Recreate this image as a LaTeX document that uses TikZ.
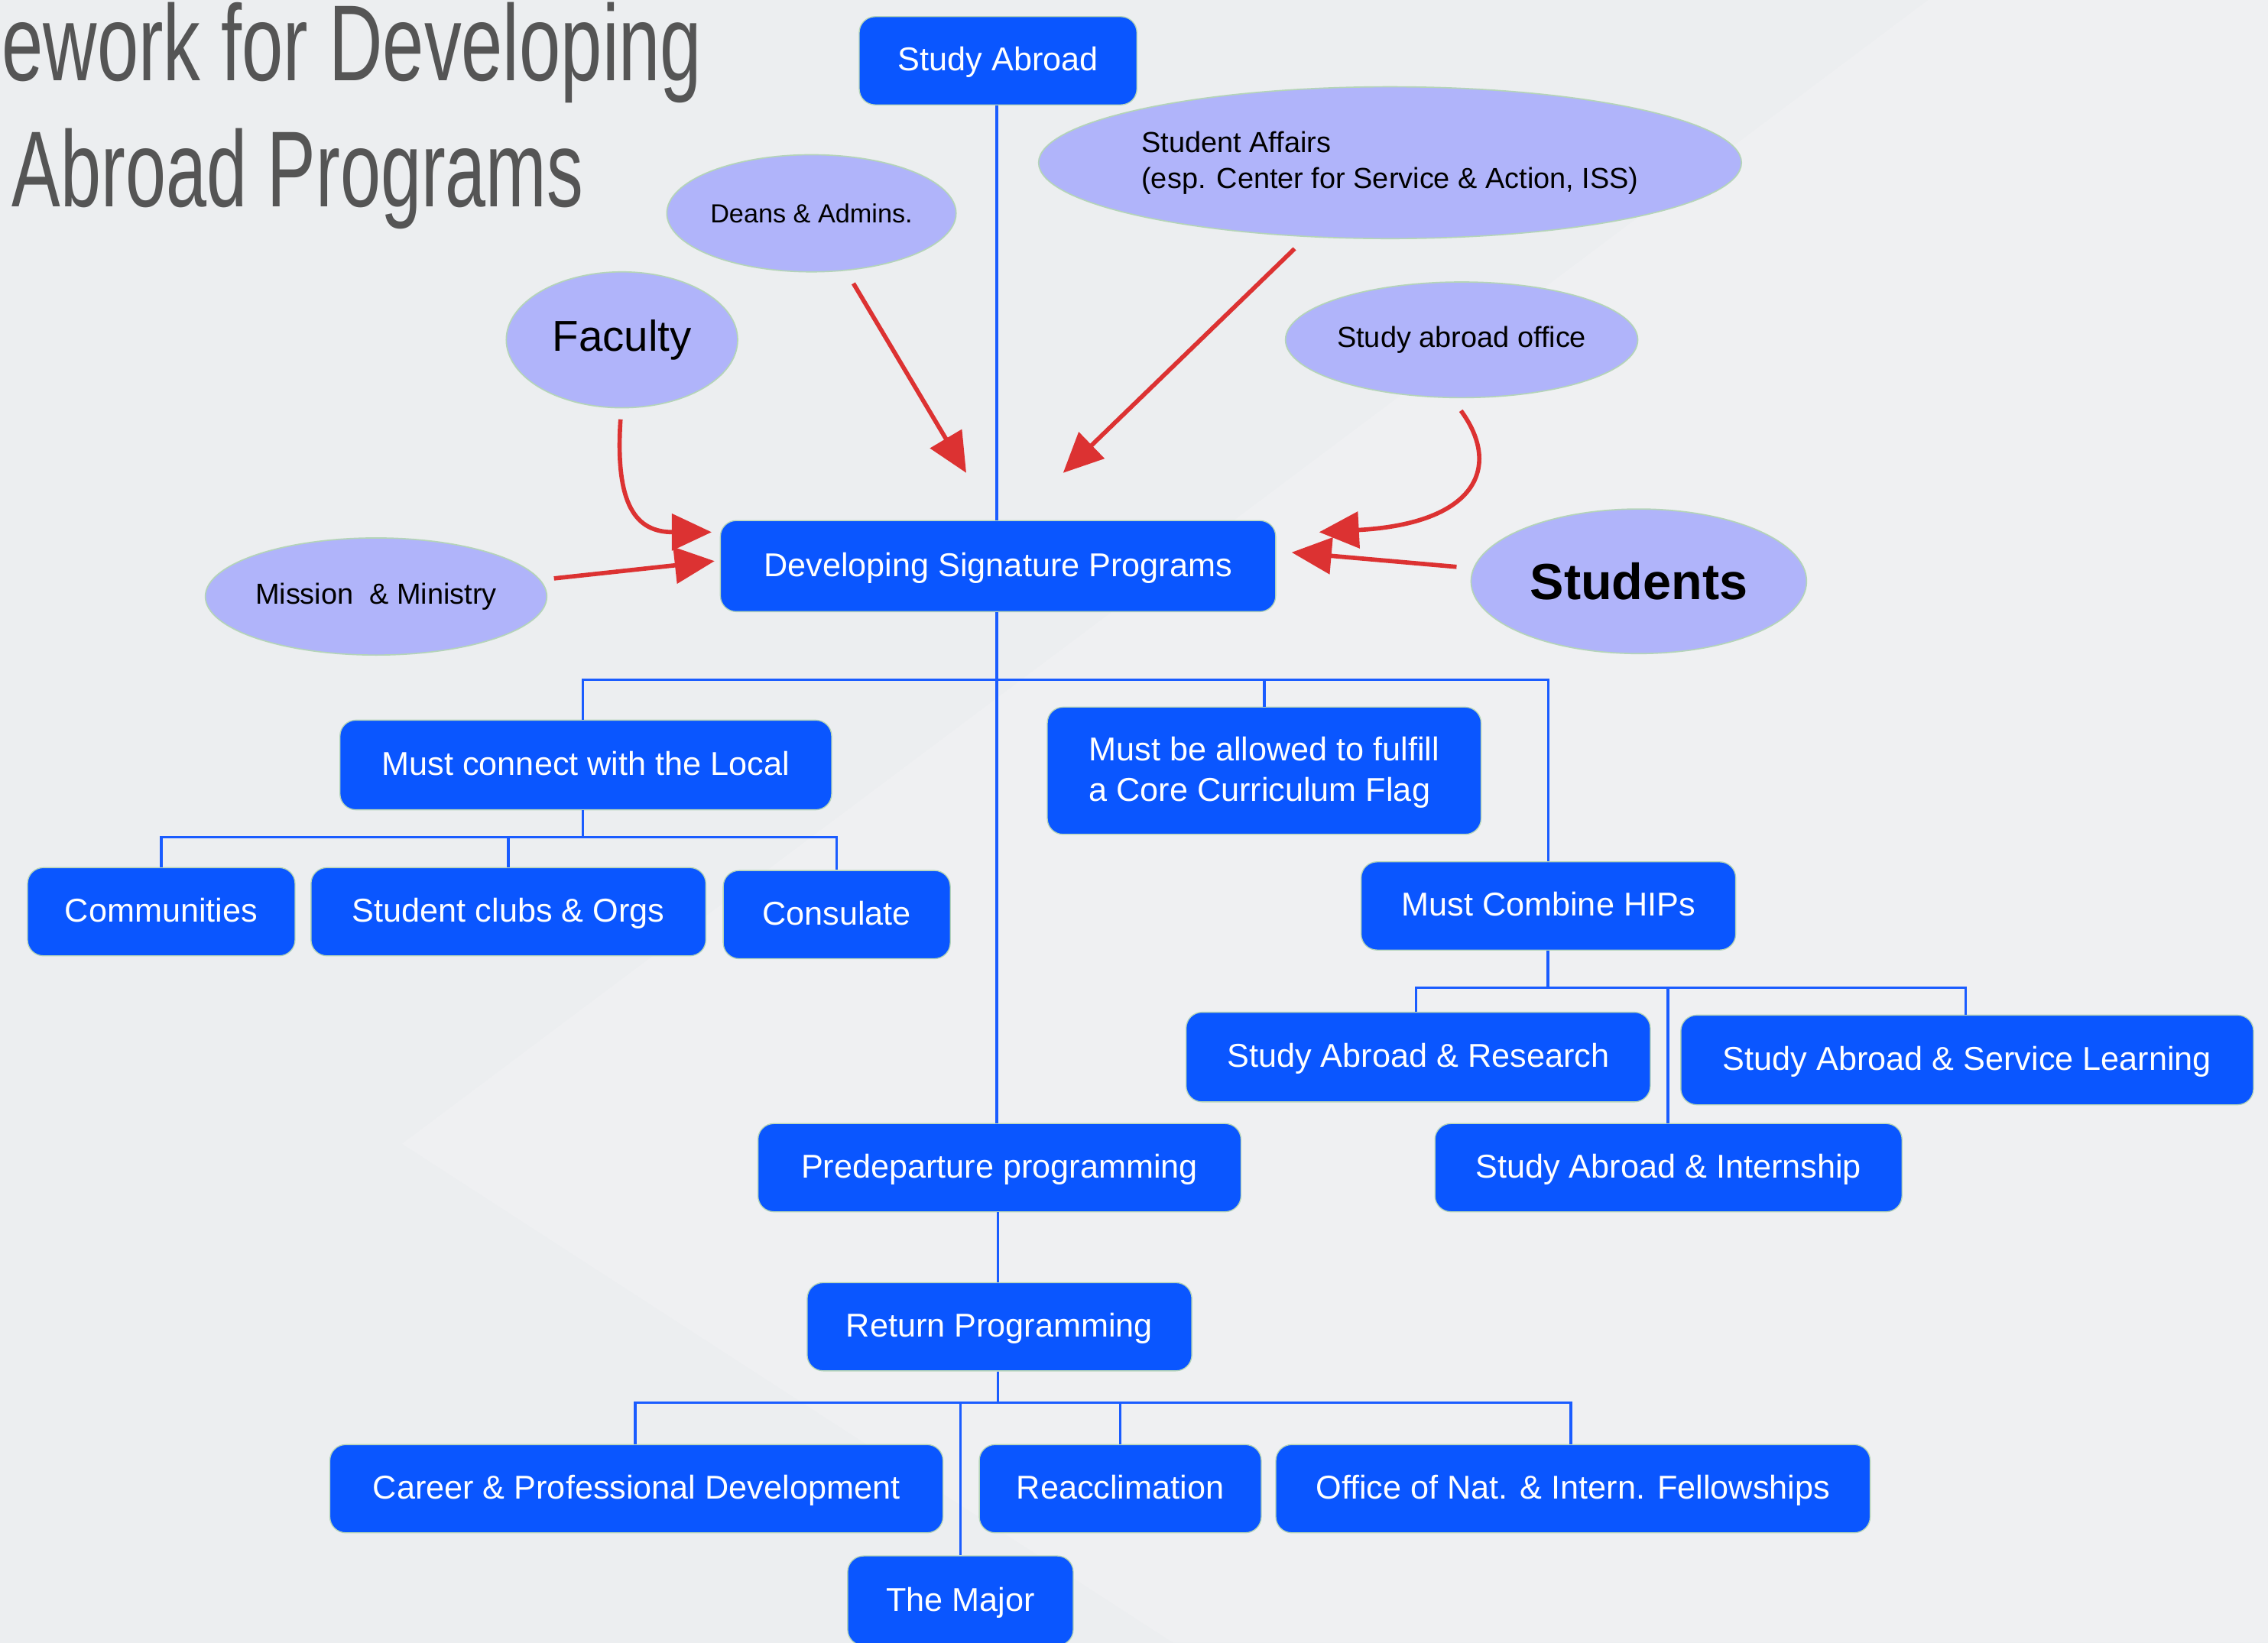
\documentclass[tikz,border=0pt]{standalone}
\usepackage{fontspec}
\setmainfont{Liberation Sans}
\usetikzlibrary{arrows.meta,shapes.geometric}
\definecolor{bg}{HTML}{ECEEF0}
\definecolor{bglight}{HTML}{EFF0F2}
\definecolor{boxblue}{HTML}{0A56FF}
\definecolor{lineblue}{HTML}{1A5CFF}
\definecolor{lav}{HTML}{B0B4FA}
\definecolor{rimgreen}{HTML}{B4D4B8}
\definecolor{arrred}{HTML}{DC3232}
\definecolor{titlegray}{HTML}{555555}
\newcommand{\bxfont}{\fontsize{13}{15.9}\selectfont}
\newcommand{\elfont}{\fontsize{11.4}{14.2}\selectfont}
\tikzset{
  bx/.style={rectangle, rounded corners=0.22cm, fill=boxblue, draw=rimgreen, line width=0.4pt,
    text=white, font=\bxfont, inner sep=0pt, minimum height=1.22cm, text depth=0.05cm},
  el/.style={ellipse, fill=lav, draw=rimgreen, line width=0.5pt, text=black, inner sep=0pt, font=\elfont},
  conn/.style={draw=lineblue, line width=1.1pt},
  redarrow/.style={draw=arrred, line width=1.7pt, -{Triangle[length=0.55cm,width=0.5cm]}}
}
\begin{document}
\begin{tikzpicture}[x=0.02cm,y=-0.02cm]
\useasboundingbox (0,0) rectangle (1568,1136);
\clip (0,0) rectangle (1568,1136);
\fill[bg] (0,0) rectangle (1568,1136);
\fill[bglight] (1333,0) -- (278,791) -- (811,1136) -- (1568,1136) -- (1568,0) -- cycle;

% title
\node[anchor=base west, inner sep=0pt, text=titlegray] (t1) at (1,56)
  {\scalebox{0.69}[1]{\fontsize{42.5}{50}\selectfont ework for Developing}};
\node[anchor=base west, inner sep=0pt, text=titlegray] (t2) at (8,143)
  {\scalebox{0.675}[1]{\fontsize{42.5}{50}\selectfont Abroad Programs}};

% boxes
\node[bx, minimum width=3.84cm] (sa) at (690,42) {Study Abroad};
\node[bx, minimum width=7.68cm, minimum height=1.26cm] (dev) at (690,391.5) {Developing Signature Programs};
\node[bx, minimum width=6.8cm, minimum height=1.24cm] (local) at (405,529) {Must connect with the Local};
\node[bx, minimum width=6.0cm, minimum height=1.76cm, align=left] (core) at (874,533)
  {Must be allowed to fulfill\\a Core Curriculum Flag};
\node[bx, minimum width=3.7cm] (comm) at (111.5,630.5) {Communities};
\node[bx, minimum width=5.46cm] (clubs) at (351.5,630.5) {Student clubs \& Orgs};
\node[bx, minimum width=3.14cm] (cons) at (578.5,632.5) {Consulate};
\node[bx, minimum width=5.18cm] (hips) at (1070.5,626.5) {Must Combine HIPs};
\node[bx, minimum width=6.42cm, minimum height=1.24cm] (res) at (980.5,731) {Study Abroad \& Research};
\node[bx, minimum width=7.92cm, minimum height=1.24cm] (serv) at (1360,733) {Study Abroad \& Service Learning};
\node[bx, minimum width=6.46cm] (intern) at (1153.5,807.5) {Study Abroad \& Internship};
\node[bx, minimum width=6.68cm] (pre) at (691,807.5) {Predeparture programming};
\node[bx, minimum width=5.32cm] (ret) at (691,917.5) {Return Programming};
\node[bx, minimum width=8.48cm] (career) at (440,1029.5) {Career \& Professional Development};
\node[bx, minimum width=3.9cm] (reac) at (774.5,1029.5) {Reacclimation};
\node[bx, minimum width=8.22cm] (office) at (1087.5,1029.5) {Office of Nat. \& Intern. Fellowships};
\node[bx, minimum width=3.12cm, minimum height=1.24cm] (major) at (664,1107) {The Major};

% ellipses
\node[el, minimum width=4.0cm, minimum height=1.62cm, font=\fontsize{10.3}{12}\selectfont] (deans) at (561,147.5) {Deans \& Admins.};
\node[el, minimum width=3.2cm, minimum height=1.88cm, font=\fontsize{17}{20}\selectfont] (fac) at (430,235) {Faculty};
\node[el, minimum width=9.56cm, minimum height=2.1cm, align=left] (aff) at (961,112.5)
  {Student Affairs\\(esp. Center for Service \& Action, ISS)};
\node[el, minimum width=4.86cm, minimum height=1.6cm] (sao) at (1010.5,235) {Study abroad office};
\node[el, minimum width=4.68cm, minimum height=1.62cm] (mis) at (260,412.5) {Mission\ \ \& Ministry};
\node[el, minimum width=4.64cm, minimum height=2.0cm, font=\fontsize{20}{24}\selectfont\bfseries] (stu) at (1133,402) {Students};

% connectors
\coordinate (bus1) at (689,470);
\coordinate (bus2) at (403,579);
\coordinate (bus3) at (1070,683);
\coordinate (bus4) at (690,970);
\draw[conn] (sa.south -| 689,0) -- (dev.north -| 689,0);
\draw[conn] (dev.south -| 689,0) -- (pre.north -| 689,0);
\draw[conn] (pre.south -| 690,0) -- (ret.north -| 690,0);
\draw[conn] (local.north -| 403,0) |- (bus1) -| (hips.north);
\draw[conn] (core.north) -- (core.north |- bus1);
\draw[conn] (local.south -| bus2) -- (bus2);
\draw[conn] (comm.north) |- (bus2) -| (cons.north);
\draw[conn] (clubs.north) -- (clubs.north |- bus2);
\draw[conn] (hips.south -| bus3) -- (bus3);
\draw[conn] (res.north -| 979,0) |- (bus3) -| (serv.north -| 1359,0);
\draw[conn] (intern.north -| 1153,0) -- (bus3 -| 1153,0);
\draw[conn] (ret.south -| bus4) -- (bus4);
\draw[conn] (career.north -| 439,0) |- (bus4) -| (office.north -| 1086,0);
\draw[conn] (reac.north) -- (reac.north |- bus4);
\draw[conn] (major.north) -- (major.north |- bus4);

% red arrows
\coordinate (dA) at (590,196);   \coordinate (dB) at (668,327);
\coordinate (aA) at (895,172);   \coordinate (aB) at (735,327);
\coordinate (fA) at (429,290);   \coordinate (fB) at (492,368);
\coordinate (mA) at (383,400);   \coordinate (mB) at (494,388);
\coordinate (oA) at (1010,284);  \coordinate (oB) at (912,368);
\coordinate (sA) at (1007,392);  \coordinate (sB) at (893,382);
\draw[redarrow] (dA) -- (dB);
\draw[redarrow] (aA) -- (aB);
\draw[redarrow] (fA) .. controls (425,350) and (440,368) .. (fB);
\draw[redarrow] (mA) -- (mB);
\draw[redarrow] (oA) .. controls (1038,322) and (1022,362) .. (oB);
\draw[redarrow] (sA) -- (sB);
\end{tikzpicture}
\end{document}
